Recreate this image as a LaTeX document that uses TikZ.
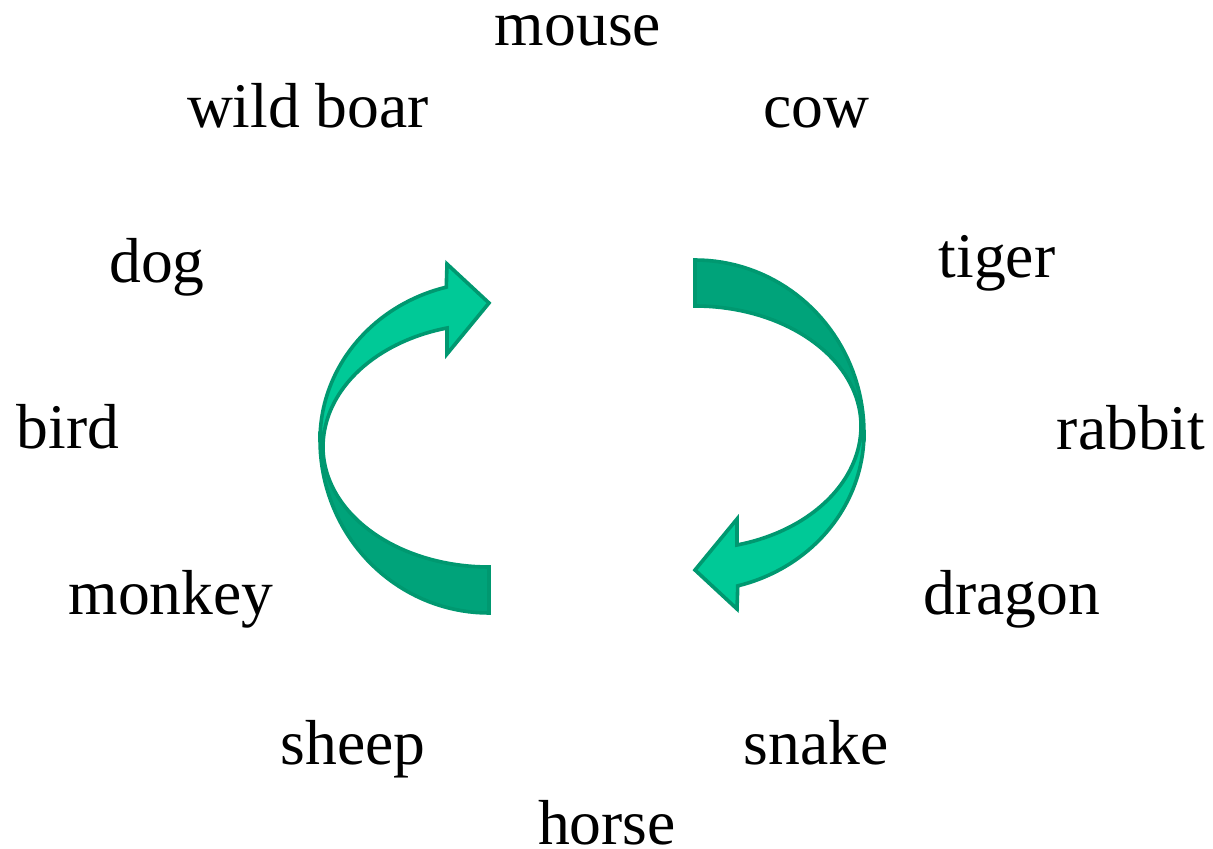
\documentclass[tikz,border=0pt]{standalone}
\usepackage{fontspec}
\setmainfont{Liberation Serif}
\definecolor{lightg}{RGB}{0,201,151}
\definecolor{darkg}{RGB}{0,163,122}
\definecolor{lineg}{RGB}{0,152,112}
\begin{document}
\begin{tikzpicture}[x=0.5pt,y=-0.5pt,
  lbl/.style={anchor=base,inner sep=0pt,font=\fontsize{31.8pt}{38pt}\selectfont},
  darkpart/.style={fill=darkg,draw=lineg,line width=1.8pt,line join=miter},
  lightpart/.style={fill=lightg,draw=lineg,line width=1.8pt,line join=miter}]
\useasboundingbox (0,0) rectangle (1213,849);
% labels
\node[lbl] (mouse) at (578,46) {mouse};
\node[lbl] (boar) at (308,128) {wild boar};
\node[lbl] (cow) at (816,128) {cow};
\node[lbl] (tiger) at (997,278) {tiger};
\node[lbl] (dog) at (157,283) {dog};
\node[lbl] (bird) at (68,448) {bird};
\node[lbl] (rabbit) at (1131,449) {rabbit};
\node[lbl] (monkey) at (171,614) {monkey};
\node[lbl] (dragon) at (1012,614) {dragon};
\node[lbl] (sheep) at (353,764) {sheep};
\node[lbl] (snake) at (816,764) {snake};
\node[lbl] (horse) at (607,844) {horse};
% left curved arrow
\begin{scope}
\draw[darkpart] (489,613) -- plot[domain=90:180,samples=40] ({489+169*cos(\x)},{440+173*sin(\x)})
  -- plot[domain=180:90,samples=40] ({489+166*cos(\x)},{447+120*sin(\x)}) -- cycle;
\draw[lightpart] plot[domain=180:255.35,samples=40] ({489+169*cos(\x)},{440+158*sin(\x)})
  -- (447,264) -- (489,303) -- (447,354) -- (447,328)
  -- plot[domain=255.08:180,samples=40] ({489+166*cos(\x)},{447+123*sin(\x)}) -- cycle;
\end{scope}
% right curved arrow
\begin{scope}[rotate around={180:(592,436.5)}]
\draw[darkpart] (489,613) -- plot[domain=90:180,samples=40] ({489+169*cos(\x)},{440+173*sin(\x)})
  -- plot[domain=180:90,samples=40] ({489+166*cos(\x)},{447+120*sin(\x)}) -- cycle;
\draw[lightpart] plot[domain=180:255.35,samples=40] ({489+169*cos(\x)},{440+158*sin(\x)})
  -- (447,264) -- (489,303) -- (447,354) -- (447,328)
  -- plot[domain=255.08:180,samples=40] ({489+166*cos(\x)},{447+123*sin(\x)}) -- cycle;
\end{scope}
\end{tikzpicture}
\end{document}
